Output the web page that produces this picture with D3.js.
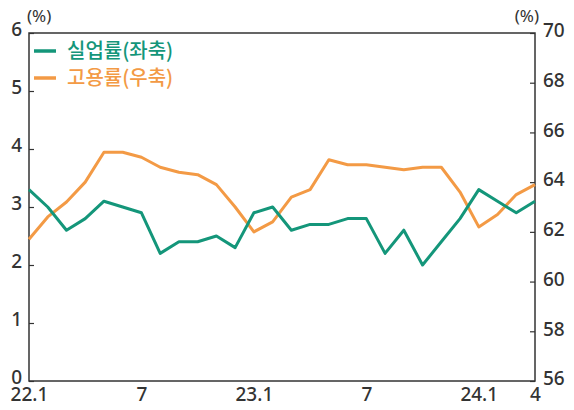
<!DOCTYPE html>
<html>
<head>
<meta charset="utf-8">
<script src="https://cdn.jsdelivr.net/npm/d3@7"></script>
<style>
  body { margin: 0; background: #fff; }
  svg text { font-family: "Noto Sans", "Noto Sans CJK KR", sans-serif; }
</style>
</head>
<body>
<div id="chart"></div>
<script>
// monthly, 22.1 .. 24.4
const months = ["22.1","22.2","22.3","22.4","22.5","22.6","22.7","22.8","22.9","22.10","22.11","22.12",
  "23.1","23.2","23.3","23.4","23.5","23.6","23.7","23.8","23.9","23.10","23.11","23.12",
  "24.1","24.2","24.3","24.4"];
const unemployment = [3.3, 3.0, 2.6, 2.8, 3.1, 3.0, 2.9, 2.2, 2.4, 2.4, 2.5, 2.3,
  2.9, 3.0, 2.6, 2.7, 2.7, 2.8, 2.8, 2.2, 2.6, 2.0, 2.4, 2.8,
  3.3, 3.1, 2.9, 3.1];
const employment = [61.7, 62.6, 63.2, 64.0, 65.2, 65.2, 65.0, 64.6, 64.4, 64.3, 63.9, 63.0,
  62.0, 62.4, 63.4, 63.7, 64.9, 64.7, 64.7, 64.6, 64.5, 64.6, 64.6, 63.6,
  62.2, 62.7, 63.5, 63.9];
const xTickLabels = {"22.1": "22.1", "22.7": "7", "23.1": "23.1", "23.7": "7", "24.1": "24.1", "24.4": "4"};
const leftTicks = [0, 1, 2, 3, 4, 5, 6];
const rightTicks = [56, 58, 60, 62, 64, 66, 68, 70];
const seriesNames = ["실업률(좌축)", "고용률(우축)"];

const width = 574, height = 410;
const margin = {top: 33, right: 39, bottom: 29, left: 29};
const w = width - margin.left - margin.right;
const h = height - margin.top - margin.bottom;
const green = "#14967a", orange = "#f39a45", ink = "#333";
const numFont = "'Noto Sans', sans-serif";

const svg = d3.select("#chart").append("svg")
  .attr("width", width).attr("height", height);
const g = svg.append("g")
  .attr("transform", "translate(" + margin.left + "," + margin.top + ")");

const x = d3.scalePoint().domain(months).range([0, w]);
const yL = d3.scaleLinear().domain([0, 6]).range([h, 0]);
const yR = d3.scaleLinear().domain([56, 70]).range([h, 0]);

// frame
g.append("rect")
  .attr("width", w).attr("height", h)
  .style("fill", "none").style("stroke", ink).style("stroke-width", 1.5);

// left axis
const left = g.append("g")
  .call(d3.axisLeft(yL).tickValues(leftTicks).tickFormat(d3.format("d")).tickSize(-5).tickPadding(7));
left.select(".domain").remove();
left.selectAll("line").attr("stroke", ink).attr("stroke-width", 1.2);
left.selectAll("text").attr("fill", ink).attr("dy", "0.12em")
  .style("font-family", numFont).style("font-size", "19px").style("font-weight", "500");

// right axis
const right = g.append("g")
  .attr("transform", "translate(" + w + ",0)")
  .call(d3.axisRight(yR).tickValues(rightTicks).tickSize(-5).tickPadding(8));
right.select(".domain").remove();
right.selectAll("line").attr("stroke", ink).attr("stroke-width", 1.2);
right.selectAll("text").attr("fill", ink).attr("dy", "0.2em")
  .style("font-family", numFont).style("font-size", "19px").style("font-weight", "500");

// bottom axis
const bottom = g.append("g")
  .attr("transform", "translate(0," + h + ")")
  .call(d3.axisBottom(x).tickValues(Object.keys(xTickLabels))
    .tickFormat(d => xTickLabels[d]).tickSize(0).tickPadding(6));
bottom.select(".domain").remove();
bottom.selectAll("text").attr("fill", ink)
  .style("font-family", numFont).style("font-size", "19px").style("font-weight", "500");

// units
svg.append("text").attr("x", 27).attr("y", 22).attr("fill", ink)
  .style("font-family", numFont).style("font-size", "17px").text("(%)");
svg.append("text").attr("x", 539).attr("y", 22).attr("fill", ink).attr("text-anchor", "end")
  .style("font-family", numFont).style("font-size", "17px").text("(%)");

// lines
const lineL = d3.line().x((d, i) => x(months[i])).y(d => yL(d));
const lineR = d3.line().x((d, i) => x(months[i])).y(d => yR(d));

g.append("path").datum(employment)
  .attr("d", lineR).attr("fill", "none")
  .attr("stroke", orange).attr("stroke-width", 3).attr("stroke-linejoin", "round");
g.append("path").datum(unemployment)
  .attr("d", lineL).attr("fill", "none")
  .attr("stroke", green).attr("stroke-width", 3).attr("stroke-linejoin", "round");

// legend
const legend = svg.append("g").attr("transform", "translate(34,51)");
[green, orange].forEach((c, i) => {
  const row = legend.append("g").attr("transform", "translate(0," + i * 27 + ")");
  row.append("line").attr("x1", 0).attr("x2", 22).attr("y1", 0).attr("y2", 0)
    .attr("stroke", c).attr("stroke-width", 3.5);
  row.append("text").attr("x", 33).attr("y", 0).attr("dy", "0.35em")
    .attr("fill", c).style("font-size", "20px").style("font-weight", "500")
    .style("font-family", "'Noto Sans CJK KR', sans-serif")
    .text(seriesNames[i]);
});
</script>
</body>
</html>
